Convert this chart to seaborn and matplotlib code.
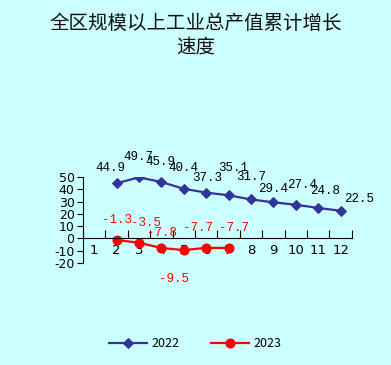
import matplotlib
matplotlib.use("Agg")
import matplotlib.pyplot as plt
import seaborn as sns
import pandas as pd

# ==================================
# DATA
# ==================================
months = [1, 2, 3, 4, 5, 6, 7, 8, 9, 10, 11, 12]
months_2022 = [2, 3, 4, 5, 6, 7, 8, 9, 10, 11, 12]
growth_2022 = [44.9, 49.7, 45.9, 40.4, 37.3, 35.1, 31.7, 29.4, 27.4, 24.8, 22.5]
months_2023 = [2, 3, 4, 5, 6, 7]
growth_2023 = [-1.3, -3.5, -7.8, -9.5, -7.7, -7.7]
y_ticks = [-20, -10, 0, 10, 20, 30, 40, 50]

# label offsets in pixels (dx, dy)
off_2022 = [(-6, 15), (-1, 20), (-1, 20), (0, 21), (1, 15), (5, 27),
            (0, 22), (0, 13), (6, 20), (7, 17), (18, 12)]
off_2023 = [(0, 20), (7, 20), (1, 15), (-10, -29), (-8, 20), (5, 20)]

df22 = pd.DataFrame({"pos": [m - 1 for m in months_2022], "val": growth_2022})
df23 = pd.DataFrame({"pos": [m - 1 for m in months_2023], "val": growth_2023})

bg = "#CCFFFF"
blue = "#333399"
red = "#FF0000"

plt.rcParams['font.family'] = ['Noto Sans CJK SC', 'DejaVu Sans']

fig = plt.figure(figsize=(3.91, 3.65), dpi=100, facecolor=bg)
ax = fig.add_axes([0.212, 0.2795, 0.688, 0.2356])
ax.set_facecolor(bg)

sns.lineplot(data=df22, x="pos", y="val", ax=ax, color=blue, marker="D",
             markersize=5.5, markeredgecolor=blue, linewidth=1.6, label="2022")
sns.lineplot(data=df23, x="pos", y="val", ax=ax, color=red, marker="o",
             markersize=6.5, markeredgecolor=red, linewidth=1.6, label="2023")

for x, y, (dx, dy) in zip(df22["pos"], df22["val"], off_2022):
    ax.annotate(f"{y}", (x, y), xytext=(dx, dy), textcoords="offset pixels",
                ha="center", va="center", fontsize=9, color="black",
                family="Liberation Mono", annotation_clip=False)
for x, y, (dx, dy) in zip(df23["pos"], df23["val"], off_2023):
    ax.annotate(f"{y}", (x, y), xytext=(dx, dy), textcoords="offset pixels",
                ha="center", va="center", fontsize=9, color=red,
                family="Liberation Mono", annotation_clip=False)

# axes styling
ax.set_xlim(-0.5, 11.5)
ax.set_ylim(-20, 50)
ax.spines["top"].set_visible(False)
ax.spines["right"].set_visible(False)
ax.spines["bottom"].set_position(("data", 0))
ax.spines["bottom"].set_color("black")
ax.spines["left"].set_color("black")

ax.set_xticks([i - 0.5 for i in range(13)])
ax.set_xticklabels([])
ax.tick_params(axis="x", which="major", direction="in", length=6, color="black")
ax.set_xticks(range(12), minor=True)
ax.set_xticklabels([str(m) for m in months], minor=True, fontsize=9.5,
                   family="DejaVu Sans")
ax.tick_params(axis="x", which="minor", length=0, pad=4)

ax.set_yticks(y_ticks)
ax.set_yticklabels([str(t) for t in y_ticks], fontsize=9, family="DejaVu Sans")
ax.tick_params(axis="y", direction="out", length=4, pad=2)
ax.set_xlabel("")
ax.set_ylabel("")
ax.grid(False)

ax.get_legend().remove()
handles, labels = ax.get_legend_handles_labels()
fig.legend(handles, labels, loc="center", bbox_to_anchor=(0.5, 0.058),
           ncol=2, frameon=False, fontsize=9, handlelength=3,
           columnspacing=2.5, handletextpad=0.4)

fig.text(0.5, 0.935, "全区规模以上工业总产值累计增长", ha="center", va="center",
         fontsize=14, color="#111111")
fig.text(0.5, 0.872, "速度", ha="center", va="center", fontsize=14,
         color="#111111")

fig.savefig("out.png", dpi=100, facecolor=bg)
